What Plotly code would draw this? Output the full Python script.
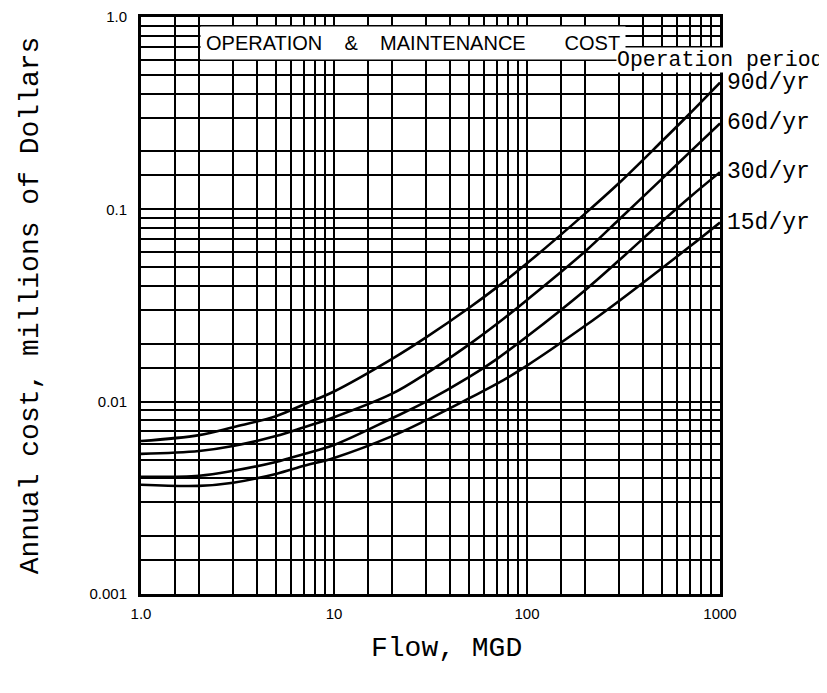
import numpy as np
import plotly.graph_objects as go

# ---- data ----
flow = [1, 2, 3, 5, 7, 10, 20, 30, 50, 70, 100, 200, 300, 500, 700, 1000]
cost_90 = [0.00624, 0.00670, 0.00737, 0.00840, 0.00969, 0.0113, 0.0167, 0.0216,
           0.0307, 0.0394, 0.0524, 0.0950, 0.137, 0.226, 0.316, 0.456]
cost_60 = [0.00535, 0.00554, 0.00588, 0.00662, 0.00737, 0.00830, 0.0110, 0.0140,
           0.0198, 0.0254, 0.0338, 0.0604, 0.0885, 0.144, 0.199, 0.280]
cost_30 = [0.00407, 0.00412, 0.00437, 0.00486, 0.00535, 0.00595, 0.00820, 0.0100,
           0.0134, 0.0167, 0.0218, 0.0380, 0.0543, 0.0864, 0.116, 0.156]
cost_15 = [0.00370, 0.00365, 0.00379, 0.00421, 0.00464, 0.00510, 0.00662, 0.00801,
           0.0104, 0.0124, 0.0154, 0.0248, 0.0334, 0.0494, 0.0642, 0.0854]
series_labels = ["90d/yr", "60d/yr", "30d/yr", "15d/yr"]

grid_mantissas = [1, 1.5, 2, 3, 4, 5, 6, 7, 8, 9]
x_decades = [1, 10, 100]
y_decades = [0.001, 0.01, 0.1]
x_tick_text = {1: "1.0", 10: "10", 100: "100", 1000: "1000"}
y_tick_text = {0.001: "0.001", 0.01: "0.01", 0.1: "0.1", 1.0: "1.0"}

x_grid = [round(m * d, 6) for d in x_decades for m in grid_mantissas] + [1000]
y_grid = [round(m * d, 8) for d in y_decades for m in grid_mantissas] + [1.0]
x_text = [x_tick_text.get(v, "") for v in x_grid]
y_text = [y_tick_text.get(v, "") for v in y_grid]

series = [cost_90, cost_60, cost_30, cost_15]

fig = go.Figure()
for vals, name in zip(series, series_labels):
    fig.add_trace(go.Scatter(x=flow, y=vals, mode="lines", name=name,
                             line=dict(color="black", width=2.6, shape="spline", smoothing=1.0)))

mono = "Liberation Mono"
sans = "Liberation Sans"

fig.update_layout(
    width=827, height=693,
    margin=dict(l=133, r=115, t=9, b=107, autoexpand=False),
    paper_bgcolor="white", plot_bgcolor="white",
    showlegend=False,
)
axis_common = dict(
    type="log", showgrid=True, gridcolor="black", gridwidth=1.6,
    showline=True, linecolor="black", linewidth=3, mirror=True,
    ticks="", automargin=False,
    tickfont=dict(family=sans, size=15, color="black"),
)
nb = "\u00a0"
fig.update_xaxes(range=[0, 3], tickvals=x_grid, ticktext=x_text, ticklabelstandoff=4,
                 **axis_common)
fig.update_yaxes(range=[-3, 0], tickvals=y_grid, ticktext=y_text, ticklabelstandoff=8,
                 **axis_common,
                 title=dict(text="Annual cost, millions of Dollars",
                            font=dict(family=mono, size=28, color="black"), standoff=43))

# x-axis title (placed as paper annotation to match the reference's off-centre position)
fig.add_annotation(xref="paper", yref="paper", x=0.5275, y=-0.095, text="Flow, MGD",
                   showarrow=False, xanchor="center", yanchor="middle",
                   font=dict(family=mono, size=28, color="black"))

title_text = f"OPERATION{nb*4}&{nb*4}MAINTENANCE{nb*7}COST"
fig.add_annotation(xref="paper", yref="paper", x=0.47, y=0.955, text=title_text,
                   showarrow=False, xanchor="center", yanchor="middle",
                   font=dict(family=sans, size=20, color="black"),
                   bgcolor="white", borderpad=5)
fig.add_annotation(xref="paper", yref="paper", x=(816 - 133) / 579, y=0.925,
                   text="Operation period",
                   showarrow=False, xanchor="right", yanchor="middle",
                   font=dict(family=mono, size=21.5, color="black"),
                   bgcolor="white", borderpad=0)
for vals, name in zip(series, series_labels):
    fig.add_annotation(xref="paper", yref="y", x=1.008, y=float(np.log10(vals[-1])),
                       text=name, showarrow=False, xanchor="left", yanchor="middle",
                       font=dict(family=mono, size=23, color="black"))

fig.write_html("out.html")
